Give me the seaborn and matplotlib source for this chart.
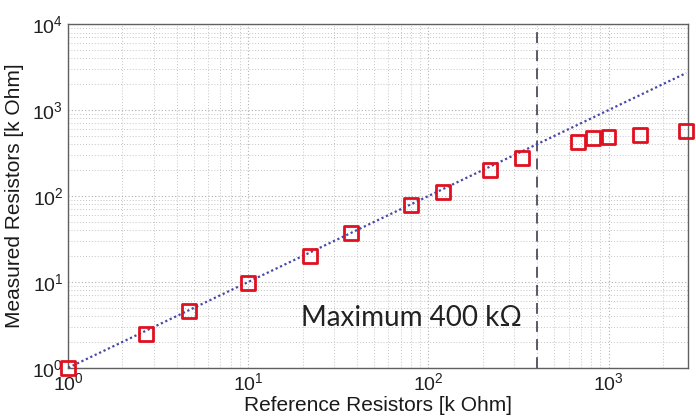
import numpy as np
import pandas as pd
import matplotlib
matplotlib.use("Agg")
import matplotlib.pyplot as plt
import seaborn as sns

# values (k Ohm)
reference_kohm = [1, 2.7, 4.7, 10, 22, 37, 80, 120, 220, 330, 680, 820, 1000, 1500, 2700]
measured_kohm = [1, 2.45, 4.6, 9.6, 20, 37, 79, 112, 203, 280, 425, 470, 486, 512, 570]
ideal_x = [1, 2700]
max_limit = 400

sns.set_theme(style="white")
plt.rcParams['font.family'] = ['Liberation Sans', 'DejaVu Sans']

fig = plt.figure(figsize=(6.96, 4.17), dpi=100)
ax = fig.add_axes([0.098, 0.118, 0.890, 0.824])

df = pd.DataFrame({"ref": reference_kohm, "meas": measured_kohm})
ideal = pd.DataFrame({"x": ideal_x, "y": ideal_x})

# ideal y = x line
sns.lineplot(data=ideal, x="x", y="y", ax=ax, color="#4848a8",
             linestyle=(0, (1, 1.2)), linewidth=1.6, zorder=3)

sns.scatterplot(data=df, x="ref", y="meas", ax=ax, marker="s", s=100,
                facecolors="none", edgecolor="#e01020", linewidth=2.0, zorder=4)
for coll in ax.collections:
    coll.set_clip_on(False)

ax.axvline(max_limit, color="#4a4f5a", linestyle=(0, (6, 4)), linewidth=1.3, zorder=2)

ax.set_xscale("log")
ax.set_yscale("log")
ax.set_xlim(1, 2750)
ax.set_ylim(1, 1e4)

ax.grid(True, which="major", color="#b0b0b0", linestyle=(0, (1, 2)), linewidth=0.8)
ax.grid(True, which="minor", color="#c4c4c4", linestyle=(0, (1, 2)), linewidth=0.7)

for s in ax.spines.values():
    s.set_color("#606060")
    s.set_linewidth(1.0)

ax.tick_params(axis="both", which="major", labelsize=14, colors="#202020",
               direction="in", length=4, width=0.8)
ax.tick_params(axis="both", which="minor", direction="in", length=2, width=0.6)

ax.set_xlabel("Reference Resistors [k Ohm]", fontsize=15, color="#1a1a1a", labelpad=1)
ax.set_ylabel("Measured Resistors [k Ohm]", fontsize=15, color="#1a1a1a", labelpad=6)

ax.text(80, 3.8, "Maximum 400 k\u03a9", fontsize=20, color="#222222",
        ha="center", va="center", family=["Lato", "DejaVu Sans"])

fig.savefig("out.png", dpi=100, facecolor="white")
